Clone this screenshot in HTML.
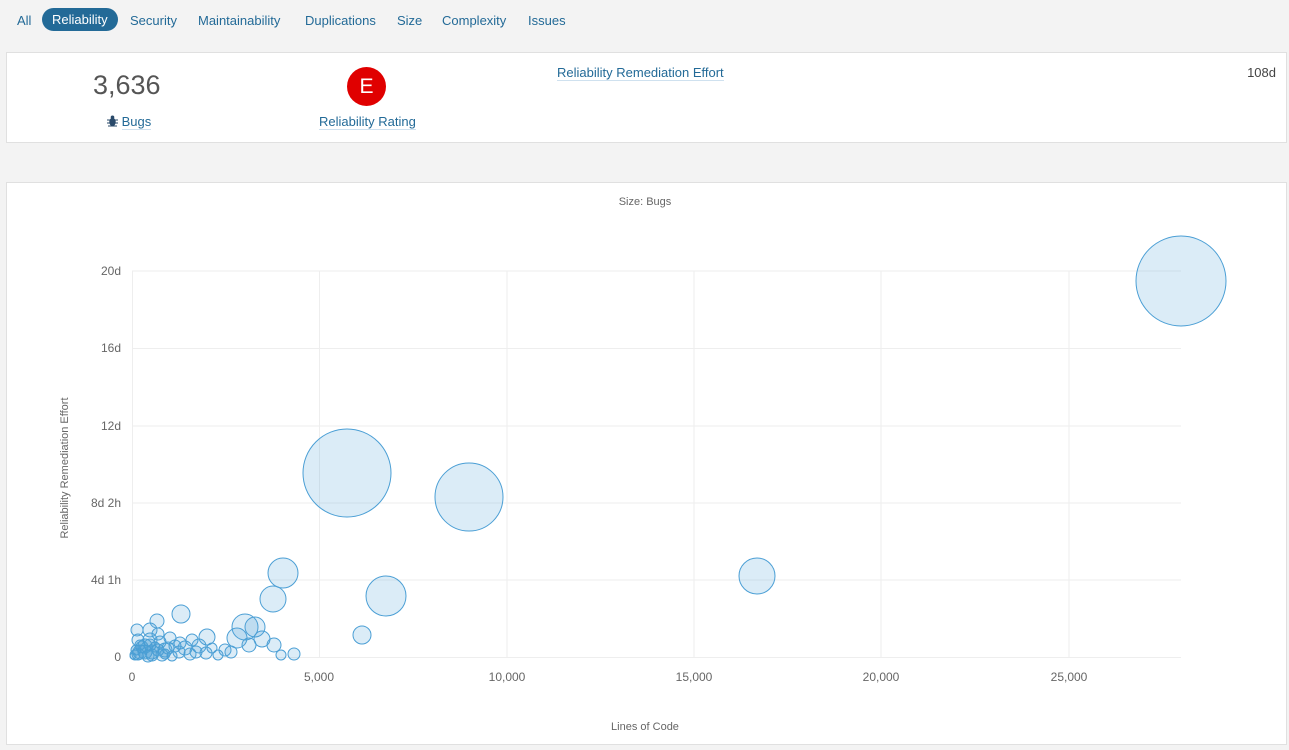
<!DOCTYPE html>
<html><head><meta charset="utf-8"><style>
body{margin:0;width:1289px;height:750px;background:#f3f3f3;font-family:"Liberation Sans",sans-serif;position:relative;overflow:hidden}
.nav{position:absolute;top:8px;left:8px;height:24px;font-size:13px;color:#236a97}
.nav span{position:absolute;top:5px;white-space:nowrap}
.pill{background:#236a97;color:#fff;border-radius:12px;padding:4px 10px;top:0!important}
.box{position:absolute;background:#fff;border:1px solid #e0e0e0}
a{color:#236a97;text-decoration:none;border-bottom:1px solid #cfe1ef}
</style></head><body>
<div class="nav">
<span style="left:9px">All</span>
<span class="pill" style="left:34px">Reliability</span>
<span style="left:122px">Security</span>
<span style="left:190px">Maintainability</span>
<span style="left:297px">Duplications</span>
<span style="left:389px">Size</span>
<span style="left:434px">Complexity</span>
<span style="left:520px">Issues</span>
</div>
<div class="box" style="left:6px;top:52px;width:1279px;height:89px">
<div style="position:absolute;left:86px;top:17px;font-size:27px;color:#555;font-weight:300">3,636</div>
<div style="position:absolute;left:100px;top:61px;font-size:13px;color:#236a97"><svg width="11" height="12" viewBox="0 0 11 12" style="vertical-align:-1px"><g fill="#2a4a6a"><ellipse cx="5.5" cy="7" rx="3.2" ry="4.2"/><circle cx="5.5" cy="2.3" r="1.8"/></g><g stroke="#2a4a6a" stroke-width="1"><line x1="0" y1="5" x2="11" y2="5"/><line x1="0" y1="8" x2="11" y2="8"/><line x1="1" y1="11" x2="10" y2="11"/></g></svg> <a>Bugs</a></div>
<div style="position:absolute;left:340px;top:14px;width:39px;height:39px;border-radius:50%;background:#e00000;color:#fff;font-size:21px;text-align:center;line-height:39px">E</div>
<div style="position:absolute;left:312px;top:61px;font-size:13px"><a>Reliability Rating</a></div>
<div style="position:absolute;left:550px;top:12px;font-size:13px"><a>Reliability Remediation Effort</a></div>
<div style="position:absolute;right:10px;top:12px;font-size:13px;color:#444">108d</div>
</div>
<div class="box" style="left:6px;top:182px;width:1279px;height:561px"></div>
<svg width="1289" height="750" style="position:absolute;left:0;top:0" font-family="Liberation Sans, sans-serif">
<text x="645" y="205" font-size="11" fill="#666" text-anchor="middle">Size: Bugs</text>
<g stroke="#eee" stroke-width="1">
<line x1="132" y1="271" x2="1181" y2="271"/><line x1="132" y1="348.5" x2="1181" y2="348.5"/><line x1="132" y1="426" x2="1181" y2="426"/><line x1="132" y1="503" x2="1181" y2="503"/><line x1="132" y1="580" x2="1181" y2="580"/><line x1="132" y1="657.5" x2="1181" y2="657.5"/>
<line x1="132.5" y1="271" x2="132.5" y2="657"/><line x1="319.5" y1="271" x2="319.5" y2="657"/><line x1="507" y1="271" x2="507" y2="657"/><line x1="694" y1="271" x2="694" y2="657"/><line x1="881" y1="271" x2="881" y2="657"/><line x1="1069" y1="271" x2="1069" y2="657"/>
</g>
<g font-size="12" fill="#666" text-anchor="end">
<text x="121" y="275">20d</text><text x="121" y="352">16d</text><text x="121" y="430">12d</text><text x="121" y="507">8d 2h</text><text x="121" y="584">4d 1h</text><text x="121" y="661">0</text>
</g>
<g font-size="12" fill="#666" text-anchor="middle">
<text x="132" y="681">0</text><text x="319" y="681">5,000</text><text x="507" y="681">10,000</text><text x="694" y="681">15,000</text><text x="881" y="681">20,000</text><text x="1069" y="681">25,000</text>
</g>
<text x="645" y="730" font-size="11" fill="#666" text-anchor="middle">Lines of Code</text>
<text transform="translate(68,468) rotate(-90)" font-size="11" fill="#666" text-anchor="middle">Reliability Remediation Effort</text>
<g fill="#4b9fd5" fill-opacity="0.2" stroke="#4b9fd5" stroke-width="1">
<circle cx="1181" cy="281" r="45"/>
<circle cx="347" cy="473" r="44"/>
<circle cx="469" cy="497" r="34"/>
<circle cx="757" cy="576" r="18"/>
<circle cx="386" cy="596" r="20"/>
<circle cx="283" cy="573" r="15"/>
<circle cx="273" cy="599" r="13"/>
<circle cx="362" cy="635" r="9"/>
<circle cx="245" cy="627" r="13"/>
<circle cx="255" cy="627" r="10"/>
<circle cx="237" cy="638" r="10"/>
<circle cx="262" cy="639" r="8"/>
<circle cx="274" cy="645" r="7"/>
<circle cx="281" cy="655" r="5"/>
<circle cx="294" cy="654" r="6"/>
<circle cx="249" cy="645" r="7"/>
<circle cx="231" cy="652" r="6"/>
<circle cx="181" cy="614" r="9"/>
<circle cx="157" cy="621" r="7"/>
<circle cx="150" cy="630" r="7"/>
<circle cx="137" cy="630" r="6"/>
<circle cx="207" cy="637" r="8"/>
<circle cx="199" cy="646" r="7"/>
<circle cx="180" cy="643" r="6"/>
<circle cx="179" cy="652" r="6"/>
<circle cx="206" cy="653" r="6"/>
<circle cx="218" cy="655" r="5"/>
<circle cx="225" cy="650" r="6"/>
<circle cx="190" cy="654" r="6"/>
<circle cx="168" cy="648" r="6"/>
<circle cx="160" cy="642" r="6"/>
<circle cx="145" cy="646" r="7"/>
<circle cx="152" cy="652" r="7"/>
<circle cx="162" cy="655" r="6"/>
<circle cx="140" cy="652" r="7"/>
<circle cx="135" cy="655" r="5"/>
<circle cx="148" cy="656" r="6"/>
<circle cx="172" cy="656" r="5"/>
<circle cx="140" cy="645" r="5"/>
<circle cx="155" cy="647" r="5"/>
<circle cx="185" cy="648" r="7"/>
<circle cx="196" cy="652" r="6"/>
<circle cx="212" cy="648" r="5"/>
<circle cx="165" cy="650" r="7"/>
<circle cx="175" cy="646" r="6"/>
<circle cx="150" cy="640" r="7"/>
<circle cx="138" cy="640" r="6"/>
<circle cx="158" cy="634" r="6"/>
<circle cx="170" cy="638" r="6"/>
<circle cx="192" cy="640" r="6"/>
<circle cx="133" cy="656" r="3"/>
</g>
<g fill="#4b9fd5" fill-opacity="0.35" stroke="#4b9fd5">
<circle cx="145" cy="652" r="7"/><circle cx="138" cy="654" r="6"/><circle cx="152" cy="655" r="6"/>
<circle cx="158" cy="650" r="6"/><circle cx="142" cy="647" r="6"/><circle cx="165" cy="654" r="5"/>
<circle cx="150" cy="645" r="6"/><circle cx="136" cy="650" r="5"/>
</g>
</svg>
</body></html>
